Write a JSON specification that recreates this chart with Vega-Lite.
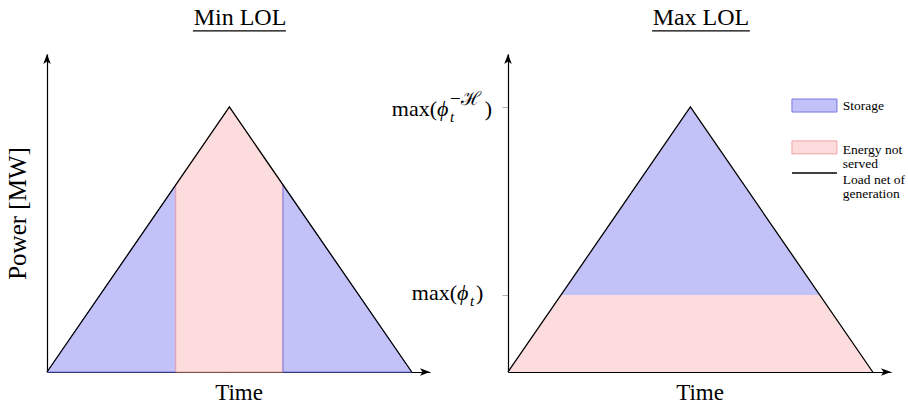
{
  "$schema": "https://vega.github.io/schema/vega-lite/v6.json",
  "padding": {"left": 5, "top": 6, "right": 0, "bottom": 0},
  "background": "white",
  "config": {
    "view": {"stroke": null},
    "axis": {"grid": false, "labels": false, "ticks": false, "domainColor": "#000", "domainWidth": 1.2, "titleFont": "Liberation Serif", "titleFontWeight": "normal", "titleColor": "#000", "zindex": 1},
    "text": {"font": "Liberation Serif", "color": "#000"}
  },
  "hconcat": [
    {
      "width": 383,
      "height": 318,
      "layer": [
        {
          "data": {"values": [
            {"seg": "a", "k": "Storage", "t": 0, "p": 0, "p2": 0},
            {"seg": "a", "k": "Storage", "t": 0.353, "p": 0.706, "p2": 0},
            {"seg": "b", "k": "Energy not served", "t": 0.353, "p": 0.706, "p2": 0},
            {"seg": "b", "k": "Energy not served", "t": 0.5, "p": 1, "p2": 0},
            {"seg": "b", "k": "Energy not served", "t": 0.647, "p": 0.706, "p2": 0},
            {"seg": "c", "k": "Storage", "t": 0.647, "p": 0.706, "p2": 0},
            {"seg": "c", "k": "Storage", "t": 1, "p": 0, "p2": 0}
          ]},
          "mark": {"type": "area", "strokeWidth": 1, "orient": "vertical"},
          "encoding": {
            "x": {"field": "t", "type": "quantitative", "scale": {"domain": [0, 1.05], "nice": false, "zero": false}, "axis": {"title": "Time", "titleFontSize": 23, "titlePadding": 9}},
            "y": {"field": "p", "type": "quantitative", "scale": {"domain": [0, 1.2], "nice": false}, "axis": {"title": "Power [MW]", "titleFontSize": 25, "titlePadding": 17}},
            "y2": {"field": "p2"},
            "detail": {"field": "seg"},
            "fill": {"field": "k", "type": "nominal", "scale": {"domain": ["Storage", "Energy not served"], "range": ["#c2c2f8", "#fcdcdc"]}, "legend": null},
            "stroke": {"field": "k", "type": "nominal", "scale": {"domain": ["Storage", "Energy not served"], "range": ["#7777e6", "#f4a3a3"]}, "legend": null}
          }
        },
        {
          "data": {"values": [{"t": 0, "p": 0}, {"t": 0.5, "p": 1}, {"t": 1, "p": 0}]},
          "mark": {"type": "line", "color": "#000", "strokeWidth": 1.3},
          "encoding": {"x": {"field": "t", "type": "quantitative"}, "y": {"field": "p", "type": "quantitative"}}
        },
        {
          "data": {"values": [{"t": 0, "p": 1.2, "dir": "up"}, {"t": 1.05, "p": 0, "dir": "right"}]},
          "mark": {"type": "point", "filled": true, "size": 100, "opacity": 1, "strokeWidth": 0, "color": "#000"},
          "encoding": {
            "x": {"field": "t", "type": "quantitative"},
            "y": {"field": "p", "type": "quantitative"},
            "shape": {"field": "dir", "type": "nominal", "scale": {"domain": ["up", "right"], "range": ["M0,0L0.75,2L0,1.5L-0.75,2Z", "M0,0L-2,-0.75L-1.5,0L-2,0.75Z"]}, "legend": null}
          }
        },
        {
          "data": {"values": [{"t": 0.529, "p": 1.309, "label": "Min LOL"}]},
          "mark": {"type": "text", "fontSize": 24, "baseline": "alphabetic", "align": "center"},
          "encoding": {"x": {"field": "t", "type": "quantitative"}, "y": {"field": "p", "type": "quantitative"}, "text": {"field": "label"}}
        },
        {
          "data": {"values": [{"t": 0.4, "t2": 0.655, "p": 1.287}]},
          "mark": {"type": "rule", "color": "#000", "strokeWidth": 1.2},
          "encoding": {"x": {"field": "t", "type": "quantitative"}, "x2": {"field": "t2"}, "y": {"field": "p", "type": "quantitative"}}
        }
      ]
    },
    {
      "width": 383,
      "height": 318,
      "layer": [
        {
          "data": {"values": [
            {"seg": "a", "k": "Energy not served", "t": 0, "p": 0, "p2": 0},
            {"seg": "a", "k": "Energy not served", "t": 0.1453, "p": 0.2906, "p2": 0},
            {"seg": "a", "k": "Energy not served", "t": 0.8547, "p": 0.2906, "p2": 0},
            {"seg": "a", "k": "Energy not served", "t": 1, "p": 0, "p2": 0},
            {"seg": "b", "k": "Storage", "t": 0.1453, "p": 0.2906, "p2": 0.2906},
            {"seg": "b", "k": "Storage", "t": 0.5, "p": 1, "p2": 0.2906},
            {"seg": "b", "k": "Storage", "t": 0.8547, "p": 0.2906, "p2": 0.2906}
          ]},
          "mark": {"type": "area", "orient": "vertical"},
          "encoding": {
            "x": {"field": "t", "type": "quantitative", "scale": {"domain": [0, 1.05], "nice": false, "zero": false}, "axis": {"title": "Time", "titleFontSize": 23, "titlePadding": 9}},
            "y": {"field": "p", "type": "quantitative", "scale": {"domain": [0, 1.2], "nice": false}, "axis": {"title": null, "ticks": true, "values": [0.2906, 1], "tickSize": 6, "tickColor": "#b0b0b0", "tickWidth": 1}},
            "y2": {"field": "p2"},
            "detail": {"field": "seg"},
            "fill": {"field": "k", "type": "nominal", "scale": {"domain": ["Storage", "Energy not served"], "range": ["#c2c2f8", "#fcdcdc"]}, "legend": null}
          }
        },
        {
          "data": {"values": [{"t": 0, "p": 0}, {"t": 0.5, "p": 1}, {"t": 1, "p": 0}]},
          "mark": {"type": "line", "color": "#000", "strokeWidth": 1.3},
          "encoding": {"x": {"field": "t", "type": "quantitative"}, "y": {"field": "p", "type": "quantitative"}}
        },
        {
          "data": {"values": [{"t": 0, "p": 1.2, "dir": "up"}, {"t": 1.05, "p": 0, "dir": "right"}]},
          "mark": {"type": "point", "filled": true, "size": 100, "opacity": 1, "strokeWidth": 0, "color": "#000"},
          "encoding": {
            "x": {"field": "t", "type": "quantitative"},
            "y": {"field": "p", "type": "quantitative"},
            "shape": {"field": "dir", "type": "nominal", "scale": {"domain": ["up", "right"], "range": ["M0,0L0.75,2L0,1.5L-0.75,2Z", "M0,0L-2,-0.75L-1.5,0L-2,0.75Z"]}, "legend": null}
          }
        },
        {
          "data": {"values": [{"t": 0.529, "p": 1.309, "label": "Max LOL"}]},
          "mark": {"type": "text", "fontSize": 24, "baseline": "alphabetic", "align": "center"},
          "encoding": {"x": {"field": "t", "type": "quantitative"}, "y": {"field": "p", "type": "quantitative"}, "text": {"field": "label"}}
        },
        {
          "data": {"values": [{"t": 0.395, "t2": 0.663, "p": 1.287}]},
          "mark": {"type": "rule", "color": "#000", "strokeWidth": 1.2},
          "encoding": {"x": {"field": "t", "type": "quantitative"}, "x2": {"field": "t2"}, "y": {"field": "p", "type": "quantitative"}}
        },
        {
          "data": {"values": [{"t": 0, "p": 0.2906, "s": "max("}]},
          "mark": {"type": "text", "fontSize": 22, "align": "right", "baseline": "alphabetic", "dx": -51, "dy": 5},
          "encoding": {"x": {"field": "t", "type": "quantitative"}, "y": {"field": "p", "type": "quantitative"}, "text": {"field": "s"}}
        },
        {
          "data": {"values": [{"t": 0, "p": 0.2906, "s": "ϕ"}]},
          "mark": {"type": "text", "fontSize": 22, "fontStyle": "italic", "font": "Liberation Serif, DejaVu Serif", "align": "left", "baseline": "alphabetic", "dx": -51, "dy": 5},
          "encoding": {"x": {"field": "t", "type": "quantitative"}, "y": {"field": "p", "type": "quantitative"}, "text": {"field": "s"}}
        },
        {
          "data": {"values": [{"t": 0, "p": 0.2906, "s": "t"}]},
          "mark": {"type": "text", "fontSize": 15, "fontStyle": "italic", "align": "left", "baseline": "alphabetic", "dx": -38, "dy": 11},
          "encoding": {"x": {"field": "t", "type": "quantitative"}, "y": {"field": "p", "type": "quantitative"}, "text": {"field": "s"}}
        },
        {
          "data": {"values": [{"t": 0, "p": 0.2906, "s": ")"}]},
          "mark": {"type": "text", "fontSize": 22, "align": "left", "baseline": "alphabetic", "dx": -32, "dy": 5},
          "encoding": {"x": {"field": "t", "type": "quantitative"}, "y": {"field": "p", "type": "quantitative"}, "text": {"field": "s"}}
        },
        {
          "data": {"values": [{"t": 0, "p": 1, "s": "max("}]},
          "mark": {"type": "text", "fontSize": 22, "align": "right", "baseline": "alphabetic", "dx": -71, "dy": 9},
          "encoding": {"x": {"field": "t", "type": "quantitative"}, "y": {"field": "p", "type": "quantitative"}, "text": {"field": "s"}}
        },
        {
          "data": {"values": [{"t": 0, "p": 1, "s": "ϕ"}]},
          "mark": {"type": "text", "fontSize": 22, "fontStyle": "italic", "font": "Liberation Serif, DejaVu Serif", "align": "left", "baseline": "alphabetic", "dx": -71, "dy": 9},
          "encoding": {"x": {"field": "t", "type": "quantitative"}, "y": {"field": "p", "type": "quantitative"}, "text": {"field": "s"}}
        },
        {
          "data": {"values": [{"t": 0, "p": 1, "s": "t"}]},
          "mark": {"type": "text", "fontSize": 15, "fontStyle": "italic", "align": "left", "baseline": "alphabetic", "dx": -58, "dy": 15},
          "encoding": {"x": {"field": "t", "type": "quantitative"}, "y": {"field": "p", "type": "quantitative"}, "text": {"field": "s"}}
        },
        {
          "data": {"values": [{"t": 0, "p": 1, "s": "−ℋ"}]},
          "mark": {"type": "text", "fontSize": 19, "align": "left", "baseline": "alphabetic", "dx": -58, "dy": -2},
          "encoding": {"x": {"field": "t", "type": "quantitative"}, "y": {"field": "p", "type": "quantitative"}, "text": {"field": "s"}}
        },
        {
          "data": {"values": [{"t": 0, "p": 1, "s": ")"}]},
          "mark": {"type": "text", "fontSize": 22, "align": "right", "baseline": "alphabetic", "dx": -16, "dy": 9},
          "encoding": {"x": {"field": "t", "type": "quantitative"}, "y": {"field": "p", "type": "quantitative"}, "text": {"field": "s"}}
        },
        {
          "data": {"values": [
            {"k": "Storage", "t": 0.7785, "t2": 0.9018, "p": 1.03, "p2": 0.981},
            {"k": "Energy not served", "t": 0.7785, "t2": 0.9018, "p": 0.872, "p2": 0.823}
          ]},
          "mark": {"type": "rect", "strokeWidth": 1},
          "encoding": {
            "x": {"field": "t", "type": "quantitative"}, "x2": {"field": "t2"},
            "y": {"field": "p", "type": "quantitative"}, "y2": {"field": "p2"},
            "fill": {"field": "k", "type": "nominal", "legend": null},
            "stroke": {"field": "k", "type": "nominal", "scale": {"domain": ["Storage", "Energy not served"], "range": ["#7777e6", "#f4a3a3"]}, "legend": null}
          }
        },
        {
          "data": {"values": [{"t": 0.7785, "t2": 0.9018, "p": 0.751}]},
          "mark": {"type": "rule", "color": "#000", "strokeWidth": 1.3},
          "encoding": {"x": {"field": "t", "type": "quantitative"}, "x2": {"field": "t2"}, "y": {"field": "p", "type": "quantitative"}}
        },
        {
          "data": {"values": [
            {"t": 0.918, "p": 1.004, "label": "Storage"},
            {"t": 0.918, "p": 0.838, "label": "Energy not\nserved"},
            {"t": 0.918, "p": 0.725, "label": "Load net of\ngeneration"}
          ]},
          "mark": {"type": "text", "fontSize": 13.5, "align": "left", "baseline": "middle", "lineBreak": "\n", "lineHeight": 14.5},
          "encoding": {"x": {"field": "t", "type": "quantitative"}, "y": {"field": "p", "type": "quantitative"}, "text": {"field": "label"}}
        }
      ]
    }
  ],
  "spacing": 78,
  "bounds": "flush"
}
